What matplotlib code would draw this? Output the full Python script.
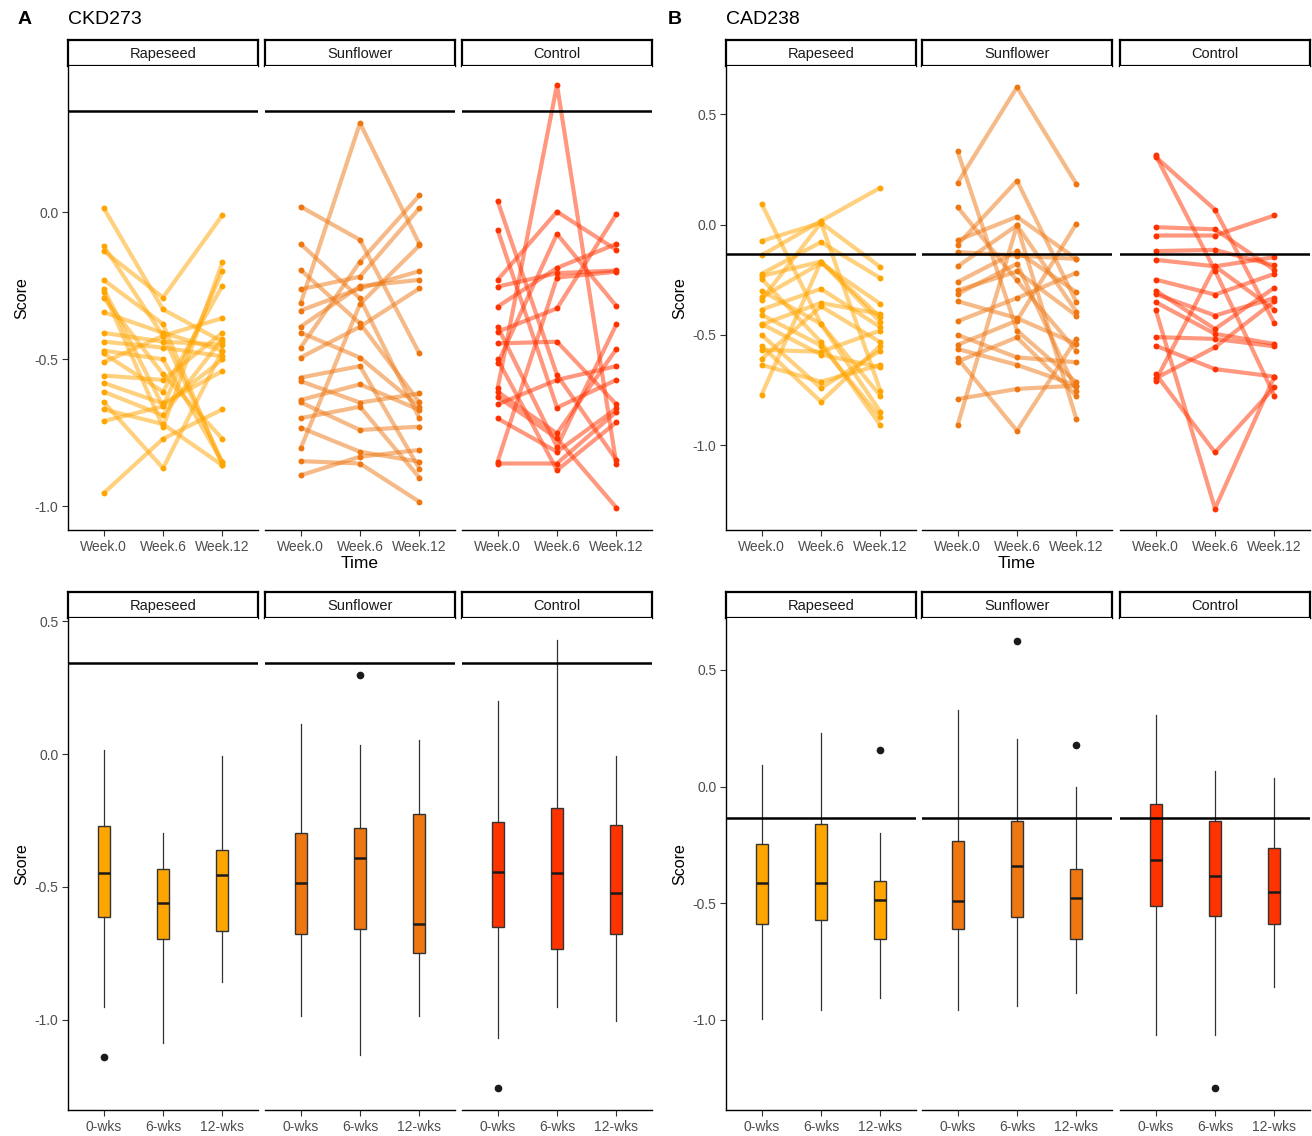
import matplotlib
matplotlib.use("Agg")
import matplotlib.pyplot as plt

plt.rcParams['font.family'] = ['Liberation Sans', 'DejaVu Sans']

# ---- data: CKD273 per-subject scores (Week.0, Week.6, Week.12) ----
ckd_rape_w0 = [0.015, -0.114, -0.131, -0.23, -0.26, -0.27, -0.29, -0.34, -0.41, -0.44,
               -0.47, -0.48, -0.51, -0.555, -0.58, -0.61, -0.645, -0.67, -0.71, -0.955]
ckd_rape_w6 = [-0.33, -0.42, -0.29, -0.38, -0.66, -0.73, -0.55, -0.41, -0.44, -0.46,
               -0.50, -0.61, -0.42, -0.57, -0.65, -0.69, -0.87, -0.72, -0.66, -0.77]
ckd_rape_w12 = [-0.44, -0.85, -0.01, -0.86, -0.20, -0.17, -0.77, -0.47, -0.45, -0.49,
                -0.85, -0.25, -0.36, -0.41, -0.54, -0.43, -0.47, -0.86, -0.50, -0.67]

ckd_sun_w0 = [0.019, -0.108, -0.196, -0.262, -0.31, -0.334, -0.389, -0.409, -0.46, -0.494,
              -0.562, -0.574, -0.638, -0.646, -0.70, -0.732, -0.803, -0.846, -0.894]
ckd_sun_w6 = [-0.094, -0.293, -0.378, -0.219, 0.303, -0.259, -0.251, -0.494, -0.168, -0.389,
              -0.523, -0.647, -0.585, -0.74, -0.661, -0.814, -0.312, -0.854, -0.831]
ckd_sun_w12 = [-0.48, -0.70, -0.646, 0.014, -0.108, -0.20, -0.23, -0.661, 0.057, -0.259,
               -0.871, -0.616, -0.672, -0.729, -0.902, -0.848, -0.113, -0.984, -0.808]

ckd_ctl_w0 = [0.038, -0.06, -0.23, -0.253, -0.321, -0.389, -0.406, -0.446, -0.514, -0.599,
              -0.61, -0.627, -0.653, -0.701, -0.848, -0.854, -0.50]
ckd_ctl_w6 = [-0.553, -0.664, 0.002, -0.207, -0.189, -0.797, -0.327, -0.44, -0.074, 0.433,
              -0.752, -0.769, -0.57, -0.814, -0.222, -0.854, -0.877]
ckd_ctl_w12 = [-0.842, -0.57, -0.128, -0.198, -0.108, -0.381, -0.006, -0.653, -0.319, -0.857,
               -0.465, -1.004, -0.523, -0.667, -0.202, -0.678, -0.714]

# ---- data: CAD238 per-subject scores ----
cad_rape_w0 = [0.095, -0.074, -0.139, -0.223, -0.233, -0.245, -0.329, -0.34, -0.385, -0.409,
               -0.453, -0.568, -0.609, -0.636, -0.771, -0.50, -0.55, -0.45, -0.30]
cad_rape_w6 = [-0.45, 0.009, 0.017, -0.079, -0.167, -0.533, -0.174, 0.009, -0.291, -0.548,
               -0.355, -0.576, -0.37, -0.712, -0.167, -0.741, -0.803, -0.589, -0.45]
cad_rape_w12 = [-0.849, -0.192, 0.168, -0.242, -0.442, -0.909, -0.359, -0.753, -0.465, -0.874,
                -0.405, -0.48, -0.533, -0.636, -0.42, -0.571, -0.548, -0.647, -0.776]

cad_sun_w0 = [0.333, 0.19, 0.08, -0.071, -0.091, -0.124, -0.189, -0.26, -0.298, -0.314,
              -0.347, -0.438, -0.5, -0.545, -0.564, -0.606, -0.621, -0.791, -0.909]
cad_sun_w6 = [-0.48, 0.624, -0.253, 0.036, 0.2, -0.14, -0.003, -0.121, -0.212, -0.177,
              -0.424, -0.333, -0.602, -0.435, -0.636, -0.935, -0.511, -0.745, -0.003]
cad_sun_w12 = [-0.715, 0.185, -0.571, -0.155, -0.351, -0.155, -0.394, -0.306, -0.412, -0.753,
               -0.541, -0.218, -0.624, 0.005, -0.73, -0.518, -0.776, -0.73, -0.882]

cad_ctl_w0 = [0.315, 0.308, -0.011, -0.049, -0.12, -0.159, -0.249, -0.299, -0.314, -0.351,
              -0.385, -0.51, -0.549, -0.677, -0.697, -0.708]
cad_ctl_w6 = [-0.208, 0.068, -0.021, -0.049, -0.114, -0.189, -0.317, -0.473, -0.412, -0.495,
              -1.288, -0.518, -0.655, -1.033, -0.556, -0.189]
cad_ctl_w12 = [-0.776, -0.447, -0.205, 0.042, -0.185, -0.147, -0.223, -0.286, -0.333, -0.541,
               -0.689, -0.552, -0.689, -0.738, -0.347, -0.385]

# ---- box summaries (Rapeseed 0/6/12, Sunflower 0/6/12, Control 0/6/12) ----
ckd_box_lo = [-0.951, -1.086, -0.859, -0.985, -1.132, -0.985, -1.067, -0.953, -1.006]
ckd_box_q1 = [-0.613, -0.696, -0.664, -0.679, -0.660, -0.750, -0.649, -0.735, -0.679]
ckd_box_med = [-0.449, -0.562, -0.454, -0.485, -0.390, -0.641, -0.445, -0.449, -0.523]
ckd_box_q3 = [-0.269, -0.432, -0.362, -0.296, -0.278, -0.226, -0.256, -0.203, -0.265]
ckd_box_hi = [0.015, -0.295, -0.006, 0.115, 0.036, 0.054, 0.201, 0.429, -0.006]
ckd_box_out = [[-1.141], [], [], [], [0.297], [], [-1.259], [], []]

cad_box_lo = [-0.997, -0.956, -0.908, -0.956, -0.939, -0.886, -1.066, -1.066, -0.858]
cad_box_q1 = [-0.588, -0.574, -0.654, -0.609, -0.559, -0.654, -0.514, -0.555, -0.588]
cad_box_med = [-0.413, -0.413, -0.485, -0.492, -0.339, -0.479, -0.314, -0.382, -0.453]
cad_box_q3 = [-0.248, -0.161, -0.406, -0.234, -0.146, -0.353, -0.076, -0.146, -0.263]
cad_box_hi = [0.091, 0.231, -0.197, 0.328, 0.204, -0.003, 0.309, 0.066, 0.036]
cad_box_out = [[], [], [0.158], [], [0.625], [0.178], [], [-1.292], []]

groups = ['Rapeseed', 'Sunflower', 'Control']
colors = ['#FFA500', '#EE7712', '#FF3300']
time_labels = ['Week.0', 'Week.6', 'Week.12']
box_labels = ['0-wks', '6-wks', '12-wks']
ckd_cutoff = 0.343
cad_cutoff = -0.133

W, H = 1312, 1136
fig = plt.figure(figsize=(W / 100, H / 100), dpi=100)


def px_axes(x, y, w, h):
    return fig.add_axes([x / W, 1 - (y + h) / H, w / W, h / H])


def style_axes(ax, first, ylim, yticks, xlabels):
    ax.set_xlim(0.4, 3.6)
    ax.set_ylim(*ylim)
    ax.set_xticks([1, 2, 3])
    ax.set_xticklabels(xlabels)
    for s in ['top', 'right']:
        ax.spines[s].set_visible(False)
    ax.spines['bottom'].set_linewidth(1.0)
    ax.spines['bottom'].set_color('black')
    ax.tick_params(axis='x', length=4, width=0.8, color='#333333',
                   labelcolor='#4D4D4D', labelsize=10, pad=3)
    if first:
        ax.set_yticks(yticks)
        ax.set_yticklabels(['%.1f' % t for t in yticks])
        ax.spines['left'].set_linewidth(1.0)
        ax.spines['left'].set_color('black')
        ax.tick_params(axis='y', length=4, width=0.8, color='#333333',
                       labelcolor='#4D4D4D', labelsize=10, pad=3)
    else:
        ax.spines['left'].set_visible(False)
        ax.set_yticks([])


def strip(x, y, w, label):
    s = px_axes(x, y, w, 26)
    s.set_xticks([])
    s.set_yticks([])
    for sp in s.spines.values():
        sp.set_linewidth(1.6)
        sp.set_color('black')
    s.text(0.5, 0.45, label, ha='center', va='center', fontsize=10.5,
           color='#1A1A1A', transform=s.transAxes)


col_x = {'A': [68, 265, 462], 'B': [726, 922, 1120]}
facet_w = 190

spaghetti = {
    'A': [(ckd_rape_w0, ckd_rape_w6, ckd_rape_w12),
          (ckd_sun_w0, ckd_sun_w6, ckd_sun_w12),
          (ckd_ctl_w0, ckd_ctl_w6, ckd_ctl_w12)],
    'B': [(cad_rape_w0, cad_rape_w6, cad_rape_w12),
          (cad_sun_w0, cad_sun_w6, cad_sun_w12),
          (cad_ctl_w0, cad_ctl_w6, cad_ctl_w12)],
}
boxes = {
    'A': (ckd_box_lo, ckd_box_q1, ckd_box_med, ckd_box_q3, ckd_box_hi, ckd_box_out),
    'B': (cad_box_lo, cad_box_q1, cad_box_med, cad_box_q3, cad_box_hi, cad_box_out),
}
cutoffs = {'A': ckd_cutoff, 'B': cad_cutoff}
top_ylim = {'A': (-1.08, 0.497), 'B': (-1.385, 0.72)}
bot_ylim = {'A': (-1.34, 0.513), 'B': (-1.387, 0.723)}
top_ticks = {'A': [-1.0, -0.5, 0.0], 'B': [-1.0, -0.5, 0.0, 0.5]}
bot_ticks = {'A': [-1.0, -0.5, 0.0, 0.5], 'B': [-1.0, -0.5, 0.0, 0.5]}

for key in ['A', 'B']:
    xs = col_x[key]
    # top row: individual trajectories
    for i, g in enumerate(groups):
        strip(xs[i], 40, facet_w, g)
        ax = px_axes(xs[i], 66, facet_w, 464)
        w0, w6, w12 = spaghetti[key][i]
        for a, b, c in zip(w0, w6, w12):
            ax.plot([1, 2, 3], [a, b, c], color=colors[i], alpha=0.5, lw=3.0,
                    solid_capstyle='round', zorder=2)
            ax.scatter([1, 2, 3], [a, b, c], s=18, color=colors[i],
                       linewidths=0, zorder=3)
        ax.axhline(cutoffs[key], color='black', lw=1.8, zorder=4)
        style_axes(ax, i == 0, top_ylim[key], top_ticks[key], time_labels)
        if i == 0:
            ax.set_ylabel('Score', fontsize=11.5, color='black', labelpad=4)
        if i == 1:
            ax.set_xlabel('Time', fontsize=12.5, color='black', labelpad=2)

    # bottom row: box plots
    lo, q1, med, q3, hi, out = boxes[key]
    for i, g in enumerate(groups):
        strip(xs[i], 592, facet_w, g)
        ax = px_axes(xs[i], 618, facet_w, 492)
        stats = []
        for j in range(3):
            k = i * 3 + j
            stats.append({'whislo': lo[k], 'q1': q1[k], 'med': med[k],
                          'q3': q3[k], 'whishi': hi[k], 'fliers': out[k]})
        ax.bxp(stats, positions=[1, 2, 3], widths=0.2, patch_artist=True,
               showcaps=False,
               boxprops=dict(facecolor=colors[i], edgecolor='#333333', linewidth=1.0),
               medianprops=dict(color='#1A1A1A', linewidth=1.8),
               whiskerprops=dict(color='#333333', linewidth=0.9),
               flierprops=dict(marker='o', markerfacecolor='#1A1A1A',
                               markeredgecolor='#1A1A1A', markersize=4.5))
        ax.axhline(cutoffs[key], color='black', lw=1.8, zorder=4)
        style_axes(ax, i == 0, bot_ylim[key], bot_ticks[key], box_labels)
        if i == 0:
            ax.set_ylabel('Score', fontsize=11.5, color='black', labelpad=4)

fig.text(18 / W, 1 - 20 / H, 'A', fontsize=14, fontweight='bold', va='center')
fig.text(68 / W, 1 - 20 / H, 'CKD273', fontsize=14, va='center')
fig.text(668 / W, 1 - 20 / H, 'B', fontsize=14, fontweight='bold', va='center')
fig.text(726 / W, 1 - 20 / H, 'CAD238', fontsize=14, va='center')

fig.savefig('out.png', dpi=100)
